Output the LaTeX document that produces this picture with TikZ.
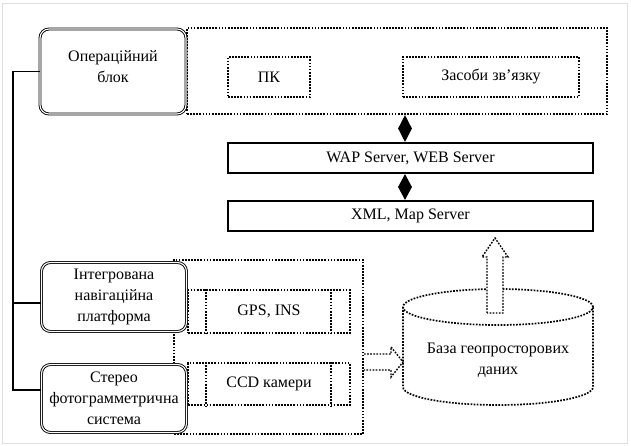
\documentclass[tikz,border=0pt]{standalone}
\usepackage{fontspec}
\setmainfont{Liberation Serif}
\usetikzlibrary{shapes.geometric,calc}
\begin{document}
\begin{tikzpicture}[x=1pt,y=-1pt,
  font=\fontsize{16}{21}\selectfont,
  dots/.style={line width=1.7pt, dash pattern=on 1.7pt off 1.4pt},
  rbox/.style={draw, double, double distance=1.1pt, line width=0.9pt, rounded corners=9pt, fill=white, align=center, inner sep=0pt},
  sbox/.style={draw, line width=1.7pt, minimum width=365pt, minimum height=30pt, inner sep=0pt},
  dbox/.style={draw, dots, inner sep=0pt},
  dia/.style={diamond, fill=black, inner sep=0pt, minimum width=14pt, minimum height=27pt},
  link/.style={line width=1.6pt}]
\useasboundingbox (0,0) rectangle (631,446);
\draw[gray!25, line width=0.6pt] (2,3) rectangle (627,443);

% upper part
\node[dbox, minimum width=420pt, minimum height=86pt] (top) at (397,71) {};
\node[dbox, minimum width=82pt, minimum height=40pt] (pk) at (269,77) {ПК};
\node[dbox, minimum width=176pt, minimum height=40pt] (zv) at (491,77) {Засоби зв’язку};
\node[rbox, minimum width=146pt, minimum height=85pt] (op) at (113,71.5) {};
\node[align=center] (opt) at ($(op.center)+(0,-4.5)$) {Операційний\\блок};

\node[sbox] (wap) at (410.5,158) {WAP Server, WEB Server};
\node[sbox] (xml) at (410.5,216) {XML, Map Server};

\coordinate (dx) at (405,0);
\path (dx |- top.south) -- node[dia] {} (dx |- wap.north);
\path (dx |- wap.south) -- node[dia, minimum height=26pt] {} (dx |- xml.north);

% lower part
\node[dbox, minimum width=189pt, minimum height=174pt] (reg) at (268.5,347) {};
\node[dbox, minimum width=162pt, minimum height=43pt] (gps) at (269,311.5) {GPS, INS};
\draw[dots] ($(gps.north west)+(19,0)$) -- ($(gps.south west)+(19,0)$);
\draw[dots] ($(gps.north east)+(-20,0)$) -- ($(gps.south east)+(-20,0)$);
\node[dbox, minimum width=162pt, minimum height=42pt] (ccd) at (269,384) {CCD камери};
\draw[dots] ($(ccd.north west)+(19,0)$) -- ($(ccd.south west)+(19,0)$);
\draw[dots] ($(ccd.north east)+(-20,0)$) -- ($(ccd.south east)+(-20,0)$);

\node[rbox, minimum width=145pt, minimum height=69pt] (nav) at (114,297) {Інтегрована\\навігаційна\\платформа};
\node[rbox, minimum width=145pt, minimum height=68pt] (st) at (114,398.5) {Стерео\\фотограмметрична\\система};

% bus on the left
\coordinate (bx) at (13,0);
\coordinate (sc) at ($(st.west)+(0,-8.5)$);
\coordinate (nc) at ($(nav.west)+(0,6)$);
\draw[link] (op.west) -| (bx |- sc) -- (sc);
\draw[link] (nc) -- (nc -| bx);

% block arrow into the database
\draw[dots, line width=1.4pt, fill=white] (364,354) -- (391,354) -- (391,347) -- (403,362) -- (391,377) -- (391,370) -- (364,370);

% database cylinder
\draw[dots] (403,307) -- (403,387) arc[start angle=180, end angle=360, x radius=95pt, y radius=18pt] -- (593,307);
\draw[dots] (498,307) ellipse [x radius=95pt, y radius=18pt];
\node[align=center] (db) at (498,360) {База геопросторових\\даних};

% block arrow up to the XML server
\draw[dots, line width=1.4pt, fill=white] (487,313) -- (487,257) -- (482,257) -- (495,238) -- (508,257) -- (503,257) -- (503,313) -- cycle;
\end{tikzpicture}
\end{document}
